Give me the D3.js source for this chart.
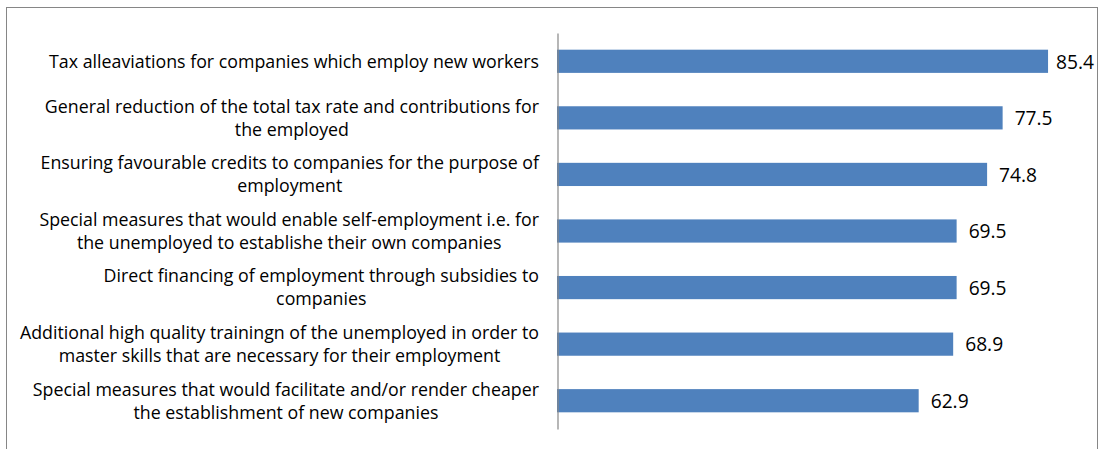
<!DOCTYPE html>
<html>
<head>
<meta charset="utf-8">
<script src="https://cdn.jsdelivr.net/npm/d3@7"></script>
<style>
  html, body { margin: 0; padding: 0; background: #fff; }
  svg { display: block; }
</style>
</head>
<body>
<svg id="chart" width="1103" height="449"></svg>
<script>
// Measures to increase employment, share of respondents in favour (%)
const categories = [
  "Tax alleaviations for companies which employ new workers",
  "General reduction of the total tax rate and contributions for\nthe employed",
  "Ensuring favourable credits to companies for the purpose of\nemployment",
  "Special measures that would enable self-employment i.e. for\nthe unemployed to establishe their own companies",
  "Direct financing of employment through subsidies to\ncompanies",
  "Additional high quality trainingn of the unemployed in order to\nmaster skills that are necessary for their employment",
  "Special measures that would facilitate and/or render cheaper\nthe establishment of new companies"
];
const values = [85.4, 77.5, 74.8, 69.5, 69.5, 68.9, 62.9];

const svg = d3.select("#chart");

// outer chart frame (bottom edge runs past the visible area)
svg.append("rect")
  .attr("x", 6.5).attr("y", 7.5)
  .attr("width", 1091).attr("height", 460)
  .attr("fill", "#fff")
  .attr("stroke", "#868686")
  .attr("stroke-width", 1);

const axisX = 557;
const x = d3.scaleLinear().domain([0, 100]).range([axisX, axisX + 575]);
const y = d3.scaleBand().domain(d3.range(categories.length)).range([33, 429]).paddingInner(0.59).paddingOuter(0.295);

// bars
svg.append("g").selectAll("rect")
  .data(values)
  .join("rect")
  .attr("x", x(0))
  .attr("y", (d, i) => y(i))
  .attr("width", d => x(d) - x(0))
  .attr("height", y.bandwidth())
  .attr("fill", "#4F81BD");

// vertical category axis line
const yAxis = d3.axisLeft(y).tickSize(0).tickFormat("");
const gAxis = svg.append("g").attr("transform", `translate(${axisX + 0.5},0)`).call(yAxis);
gAxis.select(".domain").attr("stroke", "#868686").attr("stroke-width", 1.2);

// category labels: centred lines, block right-aligned against the axis
const labelFont = "17.8px 'Open Sans', sans-serif";
const lineH = 23;
const gLab = svg.append("g");
categories.forEach((c, i) => {
  const lines = c.split("\n");
  const t = gLab.append("text")
    .style("font", labelFont)
    .attr("fill", "#000")
    .attr("text-anchor", "middle");
  const cy = y(i) + y.bandwidth() / 2;
  const y0 = cy - (lines.length - 1) * lineH / 2;
  const spans = lines.map((ln, k) => t.append("tspan").attr("y", y0 + k * lineH).attr("dy", "0.36em").text(ln));
  const wmax = d3.max(spans, s => s.node().getComputedTextLength());
  const cx = axisX - 18 - wmax / 2;
  spans.forEach(s => s.attr("x", cx));
});

// value labels to the right of each bar, kept inside the frame
const valFont = "19.2px 'Open Sans', sans-serif";
svg.append("g").selectAll("text")
  .data(values)
  .join("text")
  .style("font", valFont)
  .attr("fill", "#000")
  .attr("y", (d, i) => y(i) + y.bandwidth() / 2)
  .attr("dy", "0.38em")
  .text(d => d3.format(".1f")(d))
  .attr("x", function(d) {
    const w = this.getComputedTextLength();
    return Math.min(x(d) + 12, 1094 - w);
  });
</script>
</body>
</html>
